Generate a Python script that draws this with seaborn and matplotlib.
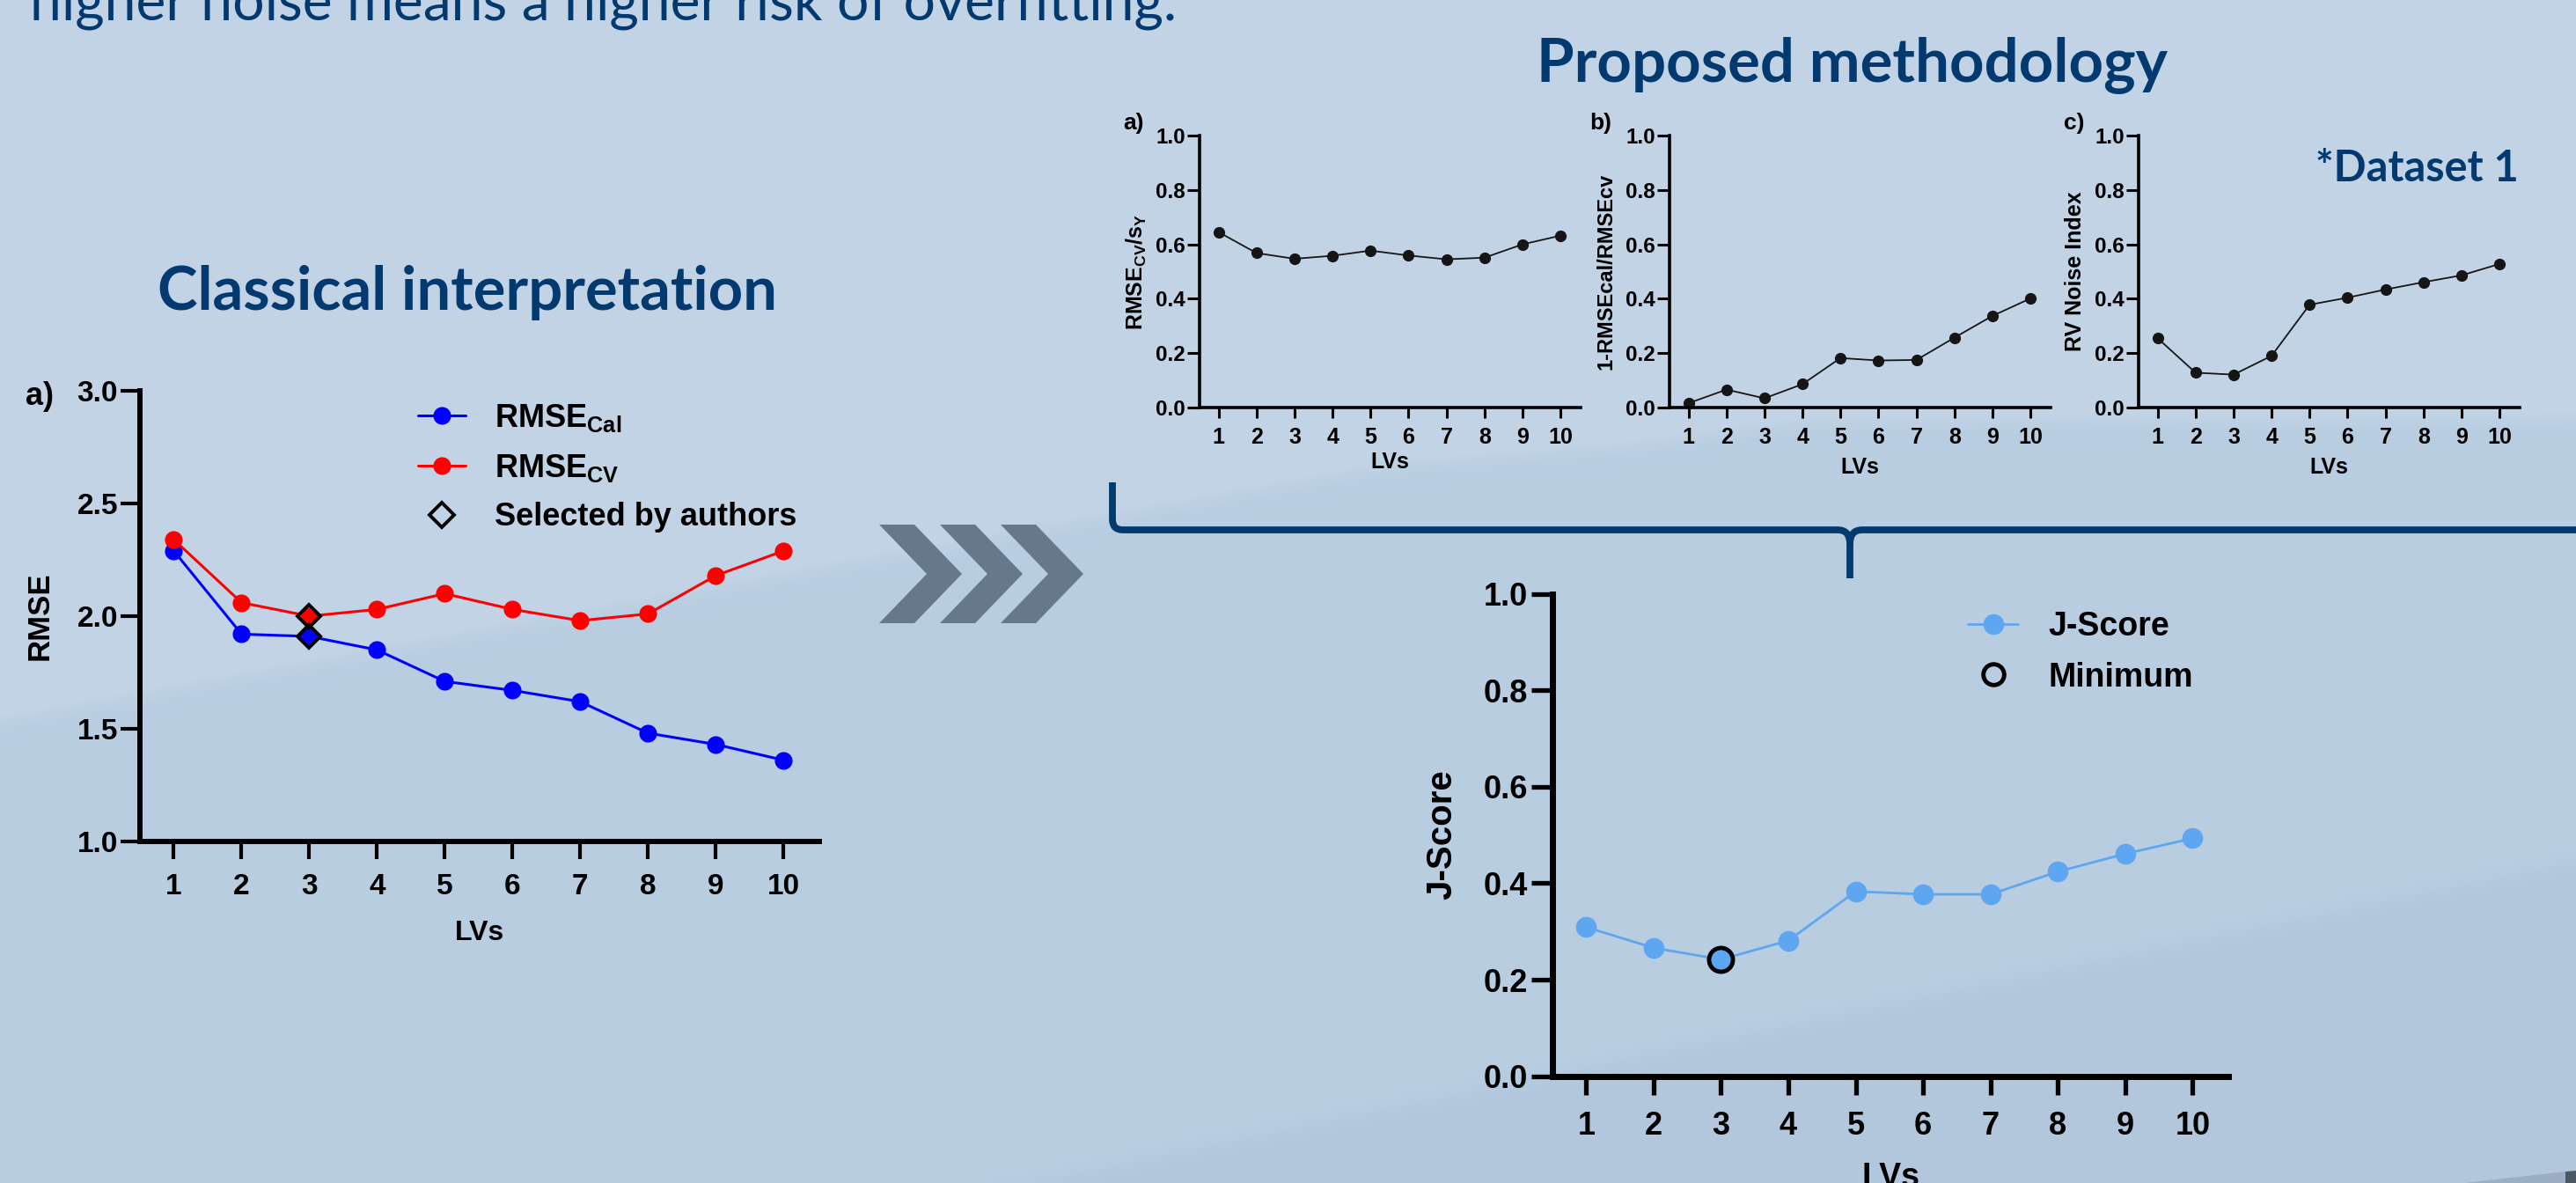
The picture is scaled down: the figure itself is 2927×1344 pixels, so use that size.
import numpy as np
import matplotlib
matplotlib.use("Agg")
import matplotlib.pyplot as plt
import seaborn as sns
from matplotlib.lines import Line2D
from matplotlib.patches import Polygon, PathPatch
from matplotlib.path import Path

# ---------------------------------------------------------------- data
LVS = list(range(1, 11))

RMSE_CAL = [2.29, 1.92, 1.91, 1.85, 1.71, 1.67, 1.62, 1.48, 1.43, 1.36]
RMSE_CV = [2.34, 2.06, 2.00, 2.03, 2.10, 2.03, 1.98, 2.01, 2.18, 2.29]
SELECTED_LV = 3

RMSECV_OVER_SY = [0.645, 0.568, 0.547, 0.558, 0.577, 0.559, 0.545, 0.551, 0.600, 0.632]
OVERFIT_RATIO = [0.016, 0.066, 0.034, 0.086, 0.182, 0.173, 0.175, 0.257, 0.337, 0.401]
RV_NOISE = [0.255, 0.128, 0.121, 0.190, 0.378, 0.404, 0.434, 0.461, 0.486, 0.528]
J_SCORE = [0.309, 0.266, 0.242, 0.281, 0.383, 0.377, 0.377, 0.424, 0.461, 0.493]

RMSE_TICKS = [1.0, 1.5, 2.0, 2.5, 3.0]
UNIT_TICKS = [0.0, 0.2, 0.4, 0.6, 0.8, 1.0]

NAVY = "#023a70"
CAL_BLUE = "#0000ff"
CV_RED = "#ff0000"
J_BLUE = "#5ea6f0"
SMALL_LINE = "#151515"

# ---------------------------------------------------------------- style
sns.set_theme(style="ticks", rc={
    "axes.edgecolor": "black", "xtick.color": "black", "ytick.color": "black",
    "text.color": "black", "axes.labelcolor": "black",
})
plt.rcParams["font.family"] = ["Liberation Sans", "DejaVu Sans"]
plt.rcParams["mathtext.fontset"] = "custom"
plt.rcParams["mathtext.rm"] = "Liberation Sans:bold"
plt.rcParams["mathtext.bf"] = "Liberation Sans:bold"
plt.rcParams["mathtext.it"] = "Liberation Sans"

W, H = 2927, 1344
fig = plt.figure(figsize=(W / 100, H / 100), dpi=100)


def px_box(left, top, right, bottom):
    return [left / W, 1 - bottom / H, (right - left) / W, (bottom - top) / H]


# ---------------------------------------------------------------- background
bg = fig.add_axes([0, 0, 1, 1], zorder=-10)
bg.set_xlim(0, W)
bg.set_ylim(H, 0)
bg.axis("off")

gx, gy = np.meshgrid(np.arange(0, W, 2, dtype=np.float32),
                     np.arange(0, H, 2, dtype=np.float32))
edge1 = np.interp(gx, [0, 950, 1575, 1843, 2050, 2927],
                  [822, 645, 533, 510, 482, 478])
edge2 = 1264 + (gx - 1550) * (-0.208)


def smooth(d, width):
    t = np.clip(d / width + 0.5, 0, 1)
    return t * t * (3 - 2 * t)


c_light = np.array([0.762, 0.831, 0.902], dtype=np.float32)
c_mid = np.array([0.722, 0.804, 0.882], dtype=np.float32)
c_dark = np.array([0.700, 0.784, 0.866], dtype=np.float32)
s1 = smooth(gy - edge1, 40)[..., None]
s2 = smooth(gy - edge2, 30)[..., None]
img = c_light * (1 - s1) + c_mid * s1
img = img * (1 - s2) + c_dark * s2
bg.imshow(img, extent=(0, W, H, 0), aspect="auto", interpolation="bilinear")

# bottom-right corner shading
bg.add_patch(Polygon([[2800, 1344], [2915, 1331], [2915, 1344]],
                     closed=True, color="#9cadc6", lw=0))
bg.add_patch(Polygon([[2915, 1331], [2927, 1330], [2927, 1344], [2915, 1344]],
                     closed=True, color="#4d5663", lw=0))

# chevrons
for x0 in (999, 1068, 1137):
    bg.add_patch(Polygon([[x0, 596], [x0 + 40, 596], [x0 + 94, 652],
                          [x0 + 40, 708], [x0, 708], [x0 + 54, 652]],
                         closed=True, color="#66788b", lw=0))

# brace linking the three indices to the combined score
brace = Path(
    [(1264, 548), (1264, 590), (1264, 602), (1276, 602), (2088, 602),
     (2102, 602), (2102, 618), (2102, 657)],
    [Path.MOVETO, Path.LINETO, Path.CURVE3, Path.CURVE3, Path.LINETO,
     Path.CURVE3, Path.CURVE3, Path.LINETO])
brace_r = Path(
    [(2102, 618), (2102, 602), (2116, 602), (2940, 602)],
    [Path.MOVETO, Path.CURVE3, Path.CURVE3, Path.LINETO])
for p in (brace, brace_r):
    bg.add_patch(PathPatch(p, fill=False, edgecolor=NAVY, lw=5.6,
                           capstyle="butt", joinstyle="round"))


# ---------------------------------------------------------------- helpers
def style_axes(ax, ylim, yticks, spine_lw, ylen, xlen, tick_w, xsize, ysize,
               xpad, ypad):
    sns.despine(ax=ax)
    ax.set_facecolor("none")
    for s in ("left", "bottom"):
        ax.spines[s].set_linewidth(spine_lw)
        ax.spines[s].set_color("black")
        ax.spines[s].set_capstyle("projecting")
    ax.set_xlim(0.5, 10.53)
    ax.set_ylim(*ylim)
    ax.set_xticks(LVS, labels=[str(v) for v in LVS], fontweight="bold",
                  fontsize=xsize)
    ax.set_yticks(yticks, labels=[f"{v:.1f}" for v in yticks],
                  fontweight="bold", fontsize=ysize)
    ax.tick_params(axis="x", direction="out", length=xlen, width=tick_w,
                   pad=xpad)
    ax.tick_params(axis="y", direction="out", length=ylen, width=tick_w,
                   pad=ypad)
    ax.grid(False)


def set_labels(ax, xlab, ylab, xlab_y, ylab_x, xsize, ysize, yweight="bold"):
    ax.set_xlabel(xlab, fontsize=xsize, fontweight="bold")
    ax.set_ylabel(ylab, fontsize=ysize, fontweight=yweight)
    ax.xaxis.set_label_coords(0.5, xlab_y)
    ax.xaxis.label.set_va("center")
    ax.yaxis.set_label_coords(ylab_x, 0.5)
    ax.yaxis.label.set_va("center")


def panel_tag(x, y, s, size):
    fig.text(x / W, 1 - y / H, s, ha="center", va="center",
             fontsize=size, fontweight="bold")


def fitted_text(x, y, s, target_w, ha, weight, color, family="Lato"):
    t = fig.text(x / W, 1 - y / H, s, ha=ha, va="baseline", fontsize=40,
                 fontweight=weight, color=color, family=family)
    w = t.get_window_extent(renderer=fig.canvas.get_renderer()).width
    t.set_fontsize(40 * target_w / w)
    return t


# ---------------------------------------------------------------- headings
fitted_text(34, 23, "higher noise means a higher risk of overfitting.",
            1301, "left", "normal", NAVY)
fitted_text(531, 352, "Classical interpretation", 704, "center", "bold", NAVY)
fitted_text(2104, 93, "Proposed methodology", 717, "center", "bold", NAVY)
fitted_text(2862, 206, "*Dataset 1", 231, "right", "bold", NAVY)

# ---------------------------------------------------------------- classical RMSE chart
ax = fig.add_axes(px_box(159, 444.4, 931, 955.6))
sns.lineplot(x=LVS, y=RMSE_CAL, ax=ax, color=CAL_BLUE, marker="o",
             markersize=14.5, markeredgewidth=0, linewidth=2.2, clip_on=False)
sns.lineplot(x=LVS, y=RMSE_CV, ax=ax, color=CV_RED, marker="o",
             markersize=14.5, markeredgewidth=0, linewidth=2.2, clip_on=False)
sel = LVS.index(SELECTED_LV)
ax.plot([SELECTED_LV, SELECTED_LV], [RMSE_CAL[sel], RMSE_CV[sel]],
        linestyle="none", marker="D", markersize=13.5, markerfacecolor="none",
        markeredgecolor="black", markeredgewidth=2.8, zorder=5, clip_on=False)
style_axes(ax, (1.0, 3.0), RMSE_TICKS, 4.3, 16, 14.4, 3.0, 24, 24, 12, 2)
set_labels(ax, "LVs", "RMSE", -0.204, -0.148, 23, 25)
panel_tag(45, 450, "a)", 26)

cls_handles = [
    Line2D([], [], color=CAL_BLUE, marker="o", markersize=14.5,
           markeredgewidth=0, linewidth=2.2),
    Line2D([], [], color=CV_RED, marker="o", markersize=14.5,
           markeredgewidth=0, linewidth=2.2),
    Line2D([], [], linestyle="none", marker="D", markersize=14,
           markerfacecolor="none", markeredgecolor="black",
           markeredgewidth=2.8),
]
cls_labels = [r"RMSE$_{\mathrm{Cal}}$", r"RMSE$_{\mathrm{CV}}$",
              "Selected by authors"]
fig.legend(cls_handles, cls_labels, loc="center left",
           bbox_to_anchor=(475 / W, 1 - 531 / H), frameon=False,
           borderpad=0, borderaxespad=0, handlelength=1.5,
           handletextpad=0.9, labelspacing=0.58, numpoints=1,
           prop={"weight": "bold", "size": 26})

# ---------------------------------------------------------------- three indices
small_specs = [
    (1363, 1796, RMSECV_OVER_SY, r"RMSE$_{\mathrm{CV}}$/s$_{\mathrm{Y}}$", 18, "a)", 1288, -0.20),
    (1897, 2330, OVERFIT_RATIO, "1-RMSEcal/RMSEcv", 17, "b)", 1819, -0.22),
    (2430, 2863, RV_NOISE, "RV Noise Index", 18, "c)", 2357, -0.22),
]
for left, right, vals, ylab, ysz, tag, tag_x, xlab_y in small_specs:
    sax = fig.add_axes(px_box(left, 154, right, 463))
    sns.lineplot(x=LVS, y=vals, ax=sax, color=SMALL_LINE, marker="o",
                 markersize=9.5, markeredgewidth=0, linewidth=1.3,
                 clip_on=False)
    style_axes(sax, (0.0, 1.0), UNIT_TICKS, 2.6, 10, 8.6, 2.2, 18, 17.5, 7,
               1.5)
    set_labels(sax, "LVs", ylab, xlab_y, -0.166, 18, ysz, yweight="bold")
    panel_tag(tag_x, 140, tag, 19)

# ---------------------------------------------------------------- J-score chart
jax = fig.add_axes(px_box(1764, 674.5, 2532, 1222.7))
sns.lineplot(x=LVS, y=J_SCORE, ax=jax, color=J_BLUE, marker="o",
             markersize=17, markeredgewidth=0, linewidth=2.0, clip_on=False)
jmin = int(np.argmin(J_SCORE))
jax.plot([LVS[jmin]], [J_SCORE[jmin]], linestyle="none", marker="o",
         markersize=19.5, markerfacecolor=J_BLUE, markeredgecolor="black",
         markeredgewidth=3.5, zorder=5, clip_on=False)
style_axes(jax, (0.0, 1.0), UNIT_TICKS, 5.0, 17, 15, 3.8, 26, 26, 13, 3.5)
set_labels(jax, "LVs", "J-Score", -0.211, -0.163, 27, 29)

j_handles = [
    Line2D([], [], color=J_BLUE, marker="o", markersize=17,
           markeredgewidth=0, linewidth=2.0),
    Line2D([], [], linestyle="none", marker="o", markersize=17,
           markerfacecolor="none", markeredgecolor="black",
           markeredgewidth=3.5),
]
fig.legend(j_handles, ["J-Score", "Minimum"], loc="center left",
           bbox_to_anchor=(2236 / W, 1 - 741 / H), frameon=False,
           borderpad=0, borderaxespad=0, handlelength=1.52,
           handletextpad=0.93, labelspacing=0.56, numpoints=1,
           prop={"weight": "bold", "size": 27})

fig.savefig("out.png", dpi=100)
